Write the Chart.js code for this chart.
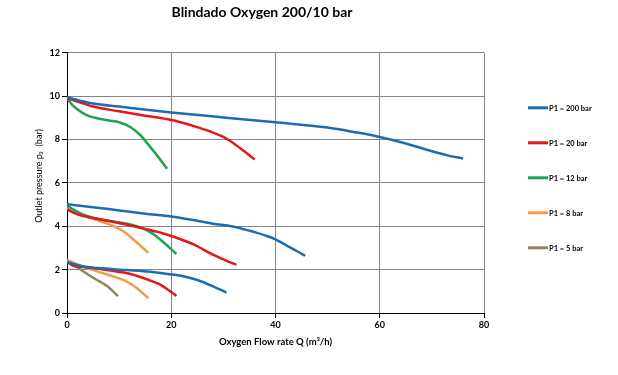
<!DOCTYPE html>
<html>
<head>
<meta charset="utf-8">
<script src="https://cdn.jsdelivr.net/npm/chart.js@4.4.0/dist/chart.umd.min.js"></script>
<style>
  html, body { margin: 0; padding: 0; background: #fff; }
  #wrap { width: 618px; height: 375px; position: relative; }
</style>
</head>
<body>
<div id="wrap"><canvas id="chart"></canvas></div>
<script>
const xMin = 0, xMax = 80, xStep = 20;
const yMin = 0, yMax = 12, yStep = 2;

const seriesLabels = ["P1 = 200 bar", "P1 = 20 bar", "P1 = 12 bar", "P1 = 8 bar", "P1 = 5 bar"];
const seriesColors = ["#1B6DB3", "#E5161C", "#1DA452", "#F59A4A", "#8F875E"];

// [Q m3/h, p2 bar], one curve per outlet setting
const p200_10 = [[0,9.95],[5,9.66],[10,9.52],[20,9.25],[30,9.02],[40,8.8],[50,8.55],[55,8.35],[60,8.12],[65,7.82],[70,7.46],[73,7.27],[76,7.12]];
const p200_5  = [[0,5.02],[5,4.88],[10,4.73],[15,4.58],[20,4.45],[25,4.25],[28,4.12],[32,3.98],[36,3.73],[38,3.58],[40,3.4],[42,3.13],[44,2.87],[45.7,2.64]];
const p200_25 = [[0,2.35],[2.7,2.17],[6,2.07],[11.6,1.98],[16,1.9],[20,1.78],[22.5,1.68],[25,1.52],[28,1.23],[30.6,0.94]];

const p20_10 = [[0,9.9],[2,9.75],[5,9.52],[10,9.3],[15,9.1],[20,8.9],[22.5,8.75],[25,8.57],[27.5,8.37],[30,8.12],[32,7.82],[34,7.46],[36,7.08]];
const p20_5  = [[0,4.78],[2,4.55],[5,4.38],[9,4.2],[12,4.05],[15,3.88],[18,3.7],[21,3.47],[24.4,3.15],[28,2.69],[30.5,2.42],[32.5,2.22]];
const p20_25 = [[0,2.38],[1,2.2],[4,2.1],[8,1.97],[11.6,1.83],[14.8,1.6],[16.5,1.45],[18,1.3],[19.5,1.05],[21,0.79]];

const p12_10 = [[0,9.9],[1,9.6],[2.5,9.3],[4,9.1],[6,8.97],[8,8.88],[10,8.8],[12,8.6],[14,8.22],[16,7.65],[17.5,7.2],[19.2,6.65]];
const p12_5  = [[0,4.95],[1.4,4.75],[3,4.55],[5.2,4.38],[8,4.25],[11.6,4.12],[14.8,3.88],[16.5,3.65],[18,3.37],[19.5,3.05],[21,2.72]];

const p8_5  = [[0,4.85],[2,4.6],[4,4.42],[6.5,4.22],[8.5,4.05],[10.2,3.86],[11.5,3.65],[12.8,3.38],[14.2,3.08],[15.6,2.78]];
const p8_25 = [[0,2.45],[3,2.15],[6.5,1.86],[9,1.68],[11,1.5],[12.5,1.3],[14,1.03],[15.6,0.68]];

const p5_25 = [[0,2.45],[2.2,2.06],[5.2,1.6],[7.8,1.22],[9.8,0.78]];

// which series each curve belongs to (index into seriesLabels)
const curves = [
  [0, p200_10], [0, p200_5], [0, p200_25],
  [1, p20_10], [1, p20_5], [1, p20_25],
  [2, p12_10], [2, p12_5],
  [3, p8_5], [3, p8_25],
  [4, p5_25]
];

const FONT = "Lato";

const datasets = curves.map(([s, pts]) => ({
  label: seriesLabels[s],
  data: pts.map(([x, y]) => ({ x, y })),
  borderColor: seriesColors[s],
  backgroundColor: seriesColors[s],
  borderWidth: 2.5,
  showLine: true,
  pointRadius: 0,
  cubicInterpolationMode: "monotone",
  fill: false
}));

// legend drawn in the right margin, one entry per series
const sideLegend = {
  id: "sideLegend",
  afterDraw(chart) {
    const ctx = chart.ctx;
    const area = chart.chartArea;
    ctx.save();
    ctx.font = "bold 7.5px " + FONT;
    ctx.textBaseline = "middle";
    ctx.textAlign = "left";
    seriesLabels.forEach((label, i) => {
      const x = area.right + 44;
      const y = area.top + 55 + i * 35;
      ctx.strokeStyle = seriesColors[i];
      ctx.lineWidth = 3;
      ctx.beginPath();
      ctx.moveTo(x, y);
      ctx.lineTo(x + 20, y);
      ctx.stroke();
      ctx.fillStyle = "#000";
      ctx.fillText(label, x + 21, y + 0.5);
    });
    ctx.restore();
  }
};

new Chart(document.getElementById("chart"), {
  type: "scatter",
  data: { datasets },
  plugins: [sideLegend],
  options: {
    responsive: true,
    maintainAspectRatio: false,
    animation: false,
    layout: { padding: { left: 0, right: 94, top: 0, bottom: 0 } },
    plugins: {
      legend: { display: false },
      tooltip: { enabled: false },
      title: {
        display: true,
        text: "Blindado Oxygen 200/10 bar",
        color: "#000",
        font: { family: FONT, size: 14, weight: "bold" },
        padding: { top: 4, bottom: 32 }
      }
    },
    scales: {
      x: {
        type: "linear",
        min: xMin, max: xMax,
        ticks: { stepSize: xStep, color: "#000", font: { family: FONT, size: 9, weight: "bold" }, padding: 2 },
        grid: { color: "#868686", tickColor: "#000", tickLength: 5 },
        border: { color: "#000", width: 1 },
        title: {
          display: true,
          text: "Oxygen Flow rate Q (m³/h)",
          color: "#000",
          font: { family: FONT, size: 9.5, weight: "bold" },
          padding: { top: 0, bottom: 27 }
        },
        afterFit(scale) { scale.height = 62; }
      },
      y: {
        min: yMin, max: yMax,
        ticks: { stepSize: yStep, color: "#000", font: { family: FONT, size: 9, weight: "bold" }, padding: 2 },
        grid: { color: "#868686", tickColor: "#000", tickLength: 5 },
        border: { color: "#000", width: 1 },
        title: {
          display: true,
          text: "      Outlet pressure p\u2082  (bar)",
          color: "#000",
          font: { family: FONT, size: 9 },
          padding: { top: 34, bottom: 0 }
        },
        afterFit(scale) { scale.width = 67; }
      },
      // empty right-hand box that keeps the plot clear of the legend column
      gap: {
        type: "linear",
        position: "right",
        display: true,
        grid: { display: false },
        ticks: { display: false },
        border: { display: false },
        afterFit(scale) { scale.width = 40; }
      }
    }
  }
});
</script>
</body>
</html>
